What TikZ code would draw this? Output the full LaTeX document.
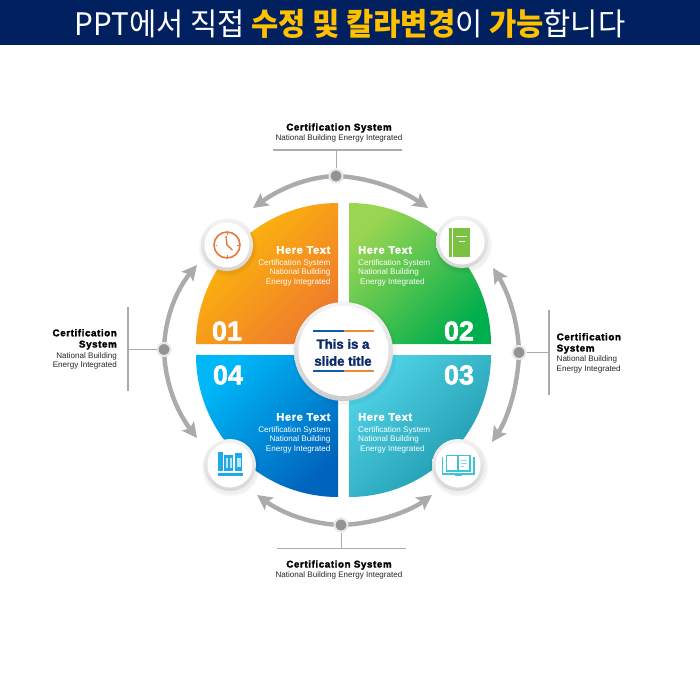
\documentclass[tikz,border=0pt]{standalone}
\usepackage{fontspec}
\setmainfont{Liberation Sans}
\newfontfamily\krfont{Noto Sans CJK KR}
\newfontfamily\capfont{Liberation Sans}[BoldFeatures={FakeBold=2.2,LetterSpace=6}]
\newfontfamily\fatfont{Liberation Sans}[BoldFeatures={FakeBold=2}]
\usetikzlibrary{arrows.meta,calc}
\definecolor{navy}{HTML}{002060}
\definecolor{gold}{HTML}{FFC000}
\definecolor{ringgray}{HTML}{ABABAB}
\definecolor{titleblue}{HTML}{0B2A6B}
\definecolor{lineblue}{HTML}{0F5CA8}
\definecolor{lineor}{HTML}{EE8A36}
\definecolor{clockor}{HTML}{E47B3C}
\definecolor{bookgr}{HTML}{7CC242}
\definecolor{bookbl}{HTML}{1FA9E8}
\definecolor{bookcy}{HTML}{3FC3D6}
\definecolor{qaa}{HTML}{FFBE08}
\definecolor{qab}{HTML}{EE7B2C}
\definecolor{qba}{HTML}{9AD652}
\definecolor{qbb}{HTML}{00AE4D}
\definecolor{qca}{HTML}{50D2E6}
\definecolor{qcb}{HTML}{1C96AA}
\definecolor{qda}{HTML}{00B8F8}
\definecolor{qdb}{HTML}{0064BC}
\newcommand{\fsz}[2]{\fontsize{#1}{#2}\selectfont}
\tikzset{
  x=1pt,y=-1pt,
  arcline/.style={draw=ringgray,line width=4.4pt,-{Stealth[length=15pt,width=15pt,inset=3pt]}},
  leader/.style={draw=ringgray,line width=1.3pt},
  leaderthin/.style={draw=ringgray,line width=0.9pt},
  dotnode/.style={circle,inner sep=0pt,minimum size=13pt,fill=gray!85!white,draw=gray!18,line width=2pt},
  badge/.style={circle,inner sep=0pt,minimum size=45pt,fill=white,draw=none},
  quadhead/.style={text=white,font=\capfont\bfseries\fsz{11}{13},inner sep=0pt},
  quadbody/.style={text=white,font=\fsz{8.1}{9.5},inner sep=0pt},
  quadnum/.style={text=white,font=\fatfont\bfseries\fsz{27}{28},inner sep=0pt},
  caphead/.style={text=black,font=\capfont\bfseries\fsz{9.8}{11.2},inner sep=0pt},
  capbody/.style={text=black!85,font=\fsz{8.05}{9.5},inner sep=0pt},
}
\newcommand{\ringbadge}[3]{% name, x, y
  \fill[black,opacity=.03] (#2+1,#3+2.5) circle (29pt);
  \fill[black,opacity=.03] (#2+1,#3+2) circle (27.5pt);
  \shade[top color=gray!10,bottom color=gray!32] (#2,#3) circle (26pt);
  \node[badge] (#1) at (#2,#3) {};
}
\begin{document}
\begin{tikzpicture}
\useasboundingbox (0,0) rectangle (700,700);
\fill[white] (0,0) rectangle (700,700);
\fill[navy] (0,0) rectangle (700,45.5);
\node[inner sep=0pt,text=white,xscale=0.955,font=\krfont\fsz{31}{33}] (title) at (350,23.5)
  {PPT에서 직접 \textcolor{gold}{\bfseries 수정 및 칼라변경}이 \textcolor{gold}{\bfseries 가능}합니다};

% quadrants
\shade[top color=qaa,bottom color=qab,shading angle=45]
  (196,344) .. controls (196,265.6) and (259.6,203) .. (338,203) -- (338,344) -- cycle;
\shade[top color=qba,bottom color=qbb,shading angle=45]
  (491,344) .. controls (491,265.6) and (427.4,203) .. (349,203) -- (349,344) -- cycle;
\shade[top color=qca,bottom color=qcb,shading angle=45]
  (491,355) .. controls (491,433.4) and (427.4,497) .. (349,497) -- (349,355) -- cycle;
\shade[top color=qda,bottom color=qdb,shading angle=45]
  (196,355) .. controls (196,433.4) and (259.6,497) .. (338,497) -- (338,355) -- cycle;

% numbers
\node[quadnum] (n1) at (227,331) {01};
\node[quadnum] (n2) at (459,331) {02};
\node[quadnum] (n3) at (459,375) {03};
\node[quadnum] (n4) at (228,375) {04};

% quadrant texts
\node[quadhead,anchor=east] (h1) at (330.5,250) {Here Text};
\node[quadbody,anchor=north east,align=right] (b1) at (330.5,259) {Certification System\\National Building\\Energy Integrated};
\node[quadhead,anchor=west] (h2) at (358,250) {Here Text};
\node[quadbody,anchor=north west,align=left] (b2) at (358,259) {Certification System\\National Building\\\hspace*{2pt}Energy Integrated};
\node[quadhead,anchor=west] (h3) at (358,417) {Here Text};
\node[quadbody,anchor=north west,align=left] (b3) at (358,426) {Certification System\\National Building\\\hspace*{2pt}Energy Integrated};
\node[quadhead,anchor=east] (h4) at (330.5,417) {Here Text};
\node[quadbody,anchor=north east,align=right] (b4) at (330.5,426) {Certification System\\National Building\\Energy Integrated};

% centre
\fill[black,opacity=.04] (344.5,353) circle (52pt);
\shade[top color=gray!8,bottom color=gray!40] (343.5,351.5) circle (49.5pt);
\node[circle,inner sep=0pt,minimum size=90pt,fill=white] (centre) at (343.5,351) {};
\node[inner sep=0pt,align=center,text=titleblue,font=\fatfont\bfseries\fsz{13.2}{17}] (ctitle) at (343,352.5) {This is a\\slide title};
\fill[lineblue] (312.5,330.3) rectangle (343.5,332.3);
\fill[lineor] (343.5,330.3) rectangle (374,332.3);
\fill[lineblue] (312.5,370.3) rectangle (343.5,372.3);
\fill[lineor] (343.5,370.3) rectangle (374,372.3);

% badges
\ringbadge{bclock}{227}{245}
\ringbadge{bbook}{462}{242}
\ringbadge{bshelf}{230}{465}
\ringbadge{bopen}{458}{465}

% clock icon
\draw[clockor,line width=1.6pt] (bclock) circle (13pt);
\draw[clockor,line width=1.4pt] (226,236) -- (227,245) -- (232.5,250);
\foreach \a in {0,90,180,270}
  \draw[clockor,line width=.6pt] ($(bclock)+(\a:11.5pt)$) -- ($(bclock)+(\a:10pt)$);

% book icon
\fill[bookgr] (449,228) rectangle (451.5,257);
\fill[bookgr] (452.5,228) rectangle (469.5,257);
\fill[white] (456,236.3) rectangle (467,237.5);
\fill[white] (459,241) rectangle (465,242);

% shelf icon
\fill[bookbl] (218,473) rectangle (242.5,475.5);
\fill[bookbl] (218,452) rectangle (222.5,471);
\fill[bookbl] (224,455) rectangle (233,471);
\fill[white!70!bookbl] (226,458) rectangle (228,468);
\fill[white!70!bookbl] (230,458) rectangle (231.5,468);
\fill[bookbl] (235,453) rectangle (242,471);
\fill[white!70!bookbl] (237,458) rectangle (240.5,467);

% open book icon
\draw[bookcy,line width=1.7pt] (446.5,455.5) rectangle (458.3,471);
\draw[bookcy,line width=1.7pt] (458.3,455.5) rectangle (470,471);
\draw[bookcy,line width=1.7pt] (442.5,457) -- (442.5,474) -- (474,474) -- (474,457);
\fill[bookcy] (455,474) rectangle (461.5,476);
\draw[bookcy!60,line width=1pt] (460.5,460) -- (466.5,460) (460.5,463) -- (466.5,463) (460.5,466) -- (464,466);

% leaders, dots
\coordinate (barT1) at (273,150);   \coordinate (barT2) at (402,150);
\coordinate (barB1) at (277,548.5); \coordinate (barB2) at (406,548.5);
\coordinate (barL1) at (128,307);   \coordinate (barL2) at (128,391);
\coordinate (barR1) at (549,310);   \coordinate (barR2) at (549,395);

\coordinate (dT) at (336,176);
\coordinate (dB) at (341,525);
\coordinate (dL) at (164,349.5);
\coordinate (dR) at (519,352.5);

\coordinate (tipTL) at (253,208); \coordinate (tipTR) at (428,208);
\coordinate (tipBL) at (257,495); \coordinate (tipBR) at (432,495);
\coordinate (tipLU) at (197,265); \coordinate (tipLD) at (197,438);
\coordinate (tipRU) at (493,268); \coordinate (tipRD) at (492,442);

\draw[arcline] (dT) .. controls (305,177) and (278,190) .. (tipTL);
\draw[arcline] (dT) .. controls (368,177) and (402,190) .. (tipTR);
\draw[arcline] (dB) .. controls (310,524) and (282,513) .. (tipBL);
\draw[arcline] (dB) .. controls (372,524) and (407,513) .. (tipBR);
\draw[arcline] (dL) .. controls (165,315) and (178,288) .. (tipLU);
\draw[arcline] (dL) .. controls (165,385) and (178,413) .. (tipLD);
\draw[arcline] (dR) .. controls (518,320) and (508,292) .. (tipRU);
\draw[arcline] (dR) .. controls (518,386) and (508,418) .. (tipRD);

\draw[leader] (barT1) -- (barT2);
\draw[leader] (barB1) -- (barB2);
\draw[leader] (barL1) -- (barL2);
\draw[leader] (barR1) -- (barR2);
\node[dotnode] (dotT) at (dT) {};
\node[dotnode] (dotB) at (dB) {};
\node[dotnode] (dotL) at (dL) {};
\node[dotnode] (dotR) at (dR) {};
\draw[leaderthin] (dotT) -- (dotT |- barT1);
\draw[leaderthin] (dotB) -- (dotB |- barB1);
\draw[leaderthin] (dotL) -- (dotL -| barL1);
\draw[leaderthin] (dotR) -- (dotR -| barR1);

% captions
\node[caphead] (ct1) at (339,128) {Certification System};
\node[capbody] (ct2) at (339,138.5) {National Building Energy Integrated};
\node[caphead] (cb1) at (339,565) {Certification System};
\node[capbody] (cb2) at (339,575) {National Building Energy Integrated};
\node[caphead,anchor=north east,align=right] (cl1) at (117,329) {Certification\\System};
\node[capbody,anchor=north east,align=right] (cl2) at (117,352) {National Building\\Energy Integrated};
\node[caphead,anchor=north west,align=left] (cr1) at (556.5,333) {Certification\\System};
\node[capbody,anchor=north west,align=left] (cr2) at (556.5,355.5) {National Building\\Energy Integrated};
\end{tikzpicture}
\end{document}
